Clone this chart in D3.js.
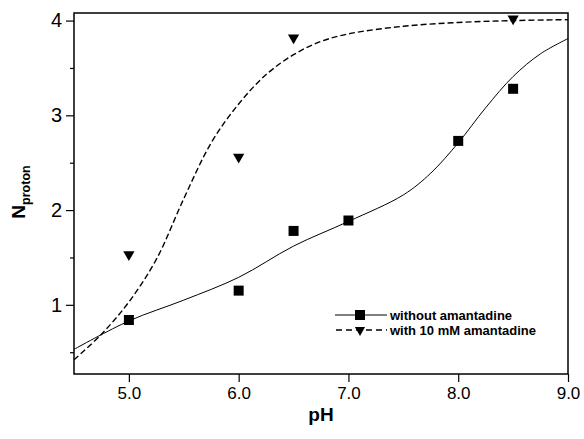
<!DOCTYPE html>
<html lang="en">
<head>
  <meta charset="UTF-8">
  <title>Nproton vs pH</title>
  <script src="https://d3js.org/d3.v7.min.js"></script>
  <style>
  body { margin: 0; background: #fff; }
  text { font-family: Arial, "Liberation Sans", sans-serif; fill: #000; }
  </style>
</head>
<body>
  <div id="chart"></div>

  <script type="text/javascript">

  // measured points
  const phPoints = [5.0, 6.0, 6.5, 7.0, 8.0, 8.5];
  const withoutAmantadine = [0.84, 1.15, 1.78, 1.89, 2.73, 3.28];
  const phPointsAm = [5.0, 6.0, 6.5, 8.5];
  const withAmantadine = [1.53, 2.56, 3.82, 4.02];

  // fitted curves
  const fitPhWithout = [4.5, 5.0, 5.5, 6.0, 6.5, 7.0, 7.5, 7.75, 8.0, 8.25, 8.5, 8.75, 9.0];
  const fitWithout = [0.53, 0.83, 1.05, 1.29, 1.62, 1.88, 2.16, 2.39, 2.71, 3.08, 3.41, 3.65, 3.81];
  const fitPhWith = [4.5, 4.75, 5.0, 5.25, 5.5, 5.75, 6.0, 6.25, 6.5, 6.75, 7.0, 7.5, 8.0, 8.5, 9.0];
  const fitWith = [0.42, 0.69, 1.03, 1.48, 2.12, 2.71, 3.12, 3.43, 3.64, 3.78, 3.86, 3.94, 3.98, 4.0, 4.01];

  const xTicks = [5.0, 6.0, 7.0, 8.0, 9.0];
  const yTicks = [1, 2, 3, 4];
  const yMinorTicks = [0.5, 1.5, 2.5, 3.5];

  const w = 584, h = 439;
  const margin = {top: 13, right: 16, bottom: 65, left: 74};

  const svg = d3.select("#chart").append("svg")
    .attr("width", w)
    .attr("height", h);

  const x = d3.scaleLinear()
    .domain([4.5, 9.0])
    .range([margin.left, w - margin.right]);

  const y = d3.scaleLinear()
    .domain([0.27, 4.08])
    .range([h - margin.bottom, margin.top]);

  // axes
  const xAxis = d3.axisBottom(x)
    .tickValues(xTicks)
    .tickFormat(d3.format(".1f"))
    .tickSize(8)
    .tickPadding(5);

  const yAxis = d3.axisLeft(y)
    .tickValues(yTicks)
    .tickFormat(d3.format("d"))
    .tickSize(8)
    .tickPadding(4);

  const yMinor = d3.axisLeft(y)
    .tickValues(yMinorTicks)
    .tickFormat("")
    .tickSize(4);

  const gx = svg.append("g")
    .attr("transform", `translate(0,${h - margin.bottom})`)
    .call(xAxis);
  gx.select(".domain").remove();
  gx.selectAll("line").attr("stroke", "#000").attr("stroke-width", 1.2);
  gx.selectAll("text").attr("font-size", 17).attr("fill", "#000");

  const gy = svg.append("g")
    .attr("transform", `translate(${margin.left},0)`)
    .call(yAxis);
  gy.select(".domain").remove();
  gy.selectAll("line").attr("stroke", "#000").attr("stroke-width", 1.2);
  gy.selectAll("text").attr("font-size", 20).attr("fill", "#000");

  const gym = svg.append("g")
    .attr("transform", `translate(${margin.left},0)`)
    .call(yMinor);
  gym.select(".domain").remove();
  gym.selectAll("line").attr("stroke", "#000").attr("stroke-width", 1.2);

  // frame
  svg.append("rect")
    .attr("x", margin.left)
    .attr("y", margin.top)
    .attr("width", w - margin.left - margin.right)
    .attr("height", h - margin.top - margin.bottom)
    .attr("fill", "none")
    .attr("stroke", "#000")
    .attr("stroke-width", 1.5);

  // curves
  const line = d3.line()
    .x(d => x(d[0]))
    .y(d => y(d[1]))
    .curve(d3.curveCatmullRom.alpha(0.5));

  svg.append("path")
    .datum(d3.zip(fitPhWithout, fitWithout))
    .attr("d", line)
    .attr("fill", "none")
    .attr("stroke", "#000")
    .attr("stroke-width", 1);

  svg.append("path")
    .datum(d3.zip(fitPhWith, fitWith))
    .attr("d", line)
    .attr("fill", "none")
    .attr("stroke", "#000")
    .attr("stroke-width", 1.4)
    .attr("stroke-dasharray", "6,3");

  // markers
  const sq = 10;
  svg.append("g").selectAll("rect")
    .data(d3.zip(phPoints, withoutAmantadine))
    .join("rect")
      .attr("x", d => x(d[0]) - sq / 2)
      .attr("y", d => y(d[1]) - sq / 2)
      .attr("width", sq)
      .attr("height", sq)
      .attr("fill", "#000");

  const tri = d3.symbol().type(d3.symbolTriangle).size(55);
  svg.append("g").selectAll("path")
    .data(d3.zip(phPointsAm, withAmantadine))
    .join("path")
      .attr("d", tri)
      .attr("transform", d => `translate(${x(d[0])},${y(d[1])}) rotate(180)`)
      .attr("fill", "#000");

  // legend
  const legend = svg.append("g");
  const lx0 = 335, lx1 = 387, lmid = 360;
  const rows = [
    {label: "without amantadine", y: 315, dash: null, marker: "square"},
    {label: "with 10 mM amantadine", y: 330, dash: "6,4", marker: "triangle"}
  ];
  rows.forEach(r => {
    legend.append("line")
      .attr("x1", r.dash ? lx0 + 1 : lx0).attr("x2", lx1)
      .attr("y1", r.y).attr("y2", r.y)
      .attr("stroke", "#000")
      .attr("stroke-width", r.dash ? 1.4 : 1)
      .attr("stroke-dasharray", r.dash);
    if (r.marker === "square") {
      legend.append("rect")
        .attr("x", lmid - 5).attr("y", r.y - 5)
        .attr("width", 10).attr("height", 10)
        .attr("fill", "#000");
    } else {
      legend.append("path")
        .attr("d", d3.symbol().type(d3.symbolTriangle).size(45))
        .attr("transform", `translate(${lmid},${r.y}) rotate(180)`)
        .attr("fill", "#000");
    }
    legend.append("text")
      .attr("x", 390)
      .attr("y", r.y)
      .attr("dy", "0.35em")
      .attr("font-size", 13)
      .attr("font-weight", "bold")
      .text(r.label);
  });

  // axis titles
  svg.append("text")
    .attr("x", (margin.left + w - margin.right) / 2)
    .attr("y", 421)
    .attr("text-anchor", "middle")
    .attr("font-size", 19)
    .attr("font-weight", "bold")
    .text("pH");

  const ylab = svg.append("text")
    .attr("transform", "translate(25,192) rotate(-90)")
    .attr("text-anchor", "middle")
    .attr("font-weight", "bold");
  ylab.append("tspan")
    .attr("font-size", 19)
    .text("N");
  ylab.append("tspan")
    .attr("font-size", 12.5)
    .attr("dy", 5)
    .text("proton");

  </script>
</body>
</html>
